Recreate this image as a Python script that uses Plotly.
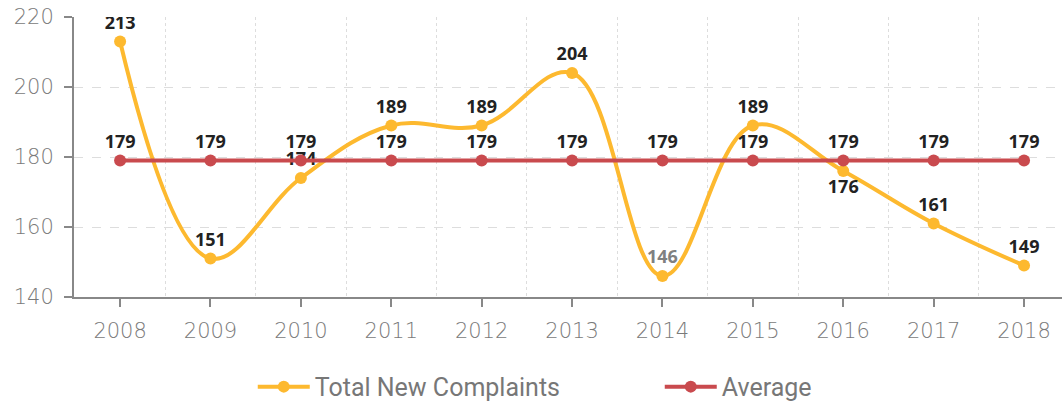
import plotly.graph_objects as go

years = ["2008", "2009", "2010", "2011", "2012", "2013", "2014", "2015", "2016", "2017", "2018"]
complaints = [213, 151, 174, 189, 189, 204, 146, 189, 176, 161, 149]
average = [179] * len(years)

x = list(range(len(years)))
label_pos = ["top center"] * len(years)
label_pos[8] = "bottom center"
label_colors = ["#222222"] * len(years)
label_colors[6] = "#808080"

label_font = dict(family="Open Sans", size=18, weight="bold")
tick_font = dict(family="DejaVu Sans", size=21, color="#7a7a7a", weight=200)

fig = go.Figure()
fig.add_trace(go.Scatter(
    x=x, y=complaints, name="Total New Complaints",
    mode="lines+markers+text",
    line=dict(color="#FDB92F", width=4, shape="spline", smoothing=1.1),
    marker=dict(size=12, color="#FDB92F"),
    text=[str(v) for v in complaints], textposition=label_pos,
    textfont=dict(**label_font, color=label_colors),
))
fig.add_trace(go.Scatter(
    x=x, y=average, name="Average",
    mode="lines+markers+text",
    line=dict(color="#C94A4E", width=4),
    marker=dict(size=12, color="#C94A4E"),
    text=[str(v) for v in average], textposition="top center",
    textfont=dict(**label_font, color="#222222"),
))

fig.update_layout(
    width=1062, height=403,
    margin=dict(l=74, r=0, t=17, b=106),
    plot_bgcolor="white", paper_bgcolor="white",
    showlegend=True,
    legend=dict(orientation="h", xref="container", x=0.238, xanchor="left",
                yref="container", y=0.04, yanchor="middle",
                font=dict(family="Roboto", size=25, color="#777777"),
                itemwidth=52, entrywidth=340, entrywidthmode="pixels"),
    xaxis=dict(
        range=[-0.51, 10.42], tickmode="array", tickvals=x, ticktext=years,
        showgrid=False, zeroline=False,
        showline=True, linecolor="#888888", linewidth=2,
        ticks="outside", ticklen=8, tickcolor="#888888", tickwidth=2,
        tickfont=tick_font, ticklabelstandoff=6,
        minor=dict(tickvals=[i + 0.5 for i in x], showgrid=True,
                   gridcolor="#dddddd", griddash="dot", gridwidth=1, ticks=""),
    ),
    yaxis=dict(
        range=[140, 220], tickvals=[140, 160, 180, 200, 220],
        showgrid=True, gridcolor="#dddddd", griddash="dash", gridwidth=1,
        zeroline=False, showline=True, linecolor="#888888", linewidth=2,
        ticks="outside", ticklen=8, tickcolor="#888888", tickwidth=2,
        tickfont=tick_font, ticklabelstandoff=6,
    ),
)

fig.write_html("out.html")
